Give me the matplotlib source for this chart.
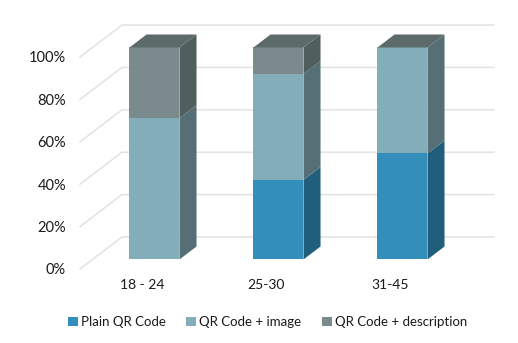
import matplotlib
matplotlib.use("Agg")
import matplotlib.pyplot as plt
from matplotlib.patches import Patch

plt.rcParams["font.family"] = ["Lato", "DejaVu Sans"]

# -----------------------------
# Data
# -----------------------------
groups = ["18 - 24", "25-30", "31-45"]
series_names = ["Plain QR Code", "QR Code + image", "QR Code + description"]
plain = [0, 37.5, 50]
image = [66.7, 50, 50]
description = [33.3, 12.5, 0]
y_ticks = [0, 20, 40, 60, 80, 100]

front_colors = ["#338fb9", "#83adb8", "#7b8b8d"]
side_colors = ["#1f5f7b", "#566f76", "#505e5d"]
top_color = "#5c6a6a"
grid_color = "#e2e2e2"

# -----------------------------
# Figure setup, axes is the front plane of the fake 3D box
# -----------------------------
W, H = 518, 343
fig = plt.figure(figsize=(W / 100, H / 100), dpi=100)
ax = fig.add_axes([80 / W, (H - 269) / H, 372 / W, 212 / H])
ax.set_xlim(0, 3)
ax.set_ylim(0, 100)
ax.patch.set_visible(False)
for s in ax.spines.values():
    s.set_visible(False)

# depth shift of the back wall, in data units
depth_x = 42 / 124
depth_y = 32 / 2.12
bar_width = 50 / 124
d_front = 0.297
d_back = 0.703


def project(x, y, d):
    return x + depth_x * d, y + depth_y * d


# -----------------------------
# Gridlines: floor/side diagonal, then along the wall
# -----------------------------
for t in y_ticks:
    x0, y0 = project(0, t, 0)
    x1, y1 = project(0, t, 1)
    x2, y2 = project(3, t, 1)
    ax.plot([x0, x1, x2], [y0, y1, y2], color=grid_color, lw=1.1,
            clip_on=False, zorder=1, solid_joinstyle="miter")

# -----------------------------
# Stacked boxes
# -----------------------------
for i in range(len(groups)):
    left = i + 0.5 - bar_width / 2
    right = i + 0.5 + bar_width / 2
    bottom = 0
    for j, vals in enumerate([plain, image, description]):
        v = vals[i]
        top = bottom + v
        if v > 0:
            # side face
            a = project(right, bottom, d_front)
            b = project(right, bottom, d_back)
            c = project(right, top, d_back)
            e = project(right, top, d_front)
            ax.fill([a[0], b[0], c[0], e[0]], [a[1], b[1], c[1], e[1]],
                    color=side_colors[j], lw=0, clip_on=False, zorder=3)
            # front face
            a = project(left, bottom, d_front)
            b = project(right, bottom, d_front)
            c = project(right, top, d_front)
            e = project(left, top, d_front)
            ax.fill([a[0], b[0], c[0], e[0]], [a[1], b[1], c[1], e[1]],
                    color=front_colors[j], lw=0, clip_on=False, zorder=4)
        bottom = top
    # cap on top of the stack
    a = project(left, bottom, d_front)
    b = project(right, bottom, d_front)
    c = project(right, bottom, d_back)
    e = project(left, bottom, d_back)
    ax.fill([a[0], b[0], c[0], e[0]], [a[1], b[1], c[1], e[1]],
            color=top_color, lw=0, clip_on=False, zorder=5)

# -----------------------------
# Labels
# -----------------------------
ax.set_yticks(y_ticks)
ax.set_yticklabels([f"{t}%" for t in y_ticks])
ax.set_xticks([0.5, 1.5, 2.5])
ax.set_xticklabels(groups)
ax.tick_params(axis="y", length=0, pad=10, labelsize=10.5, labelcolor="#1a1a1a")
ax.tick_params(axis="x", length=0, pad=7.5, labelsize=10, labelcolor="#1a1a1a")

handles = [Patch(color=c, lw=0) for c in front_colors]
fig.legend(handles, series_names, loc="center", bbox_to_anchor=(267.5 / W, (H - 322) / H),
           ncol=3, frameon=False, fontsize=9.5, handlelength=0.75, handleheight=0.75,
           handletextpad=0.22, columnspacing=1.55, labelcolor="#1a1a1a")

fig.savefig("out.png", dpi=100)
